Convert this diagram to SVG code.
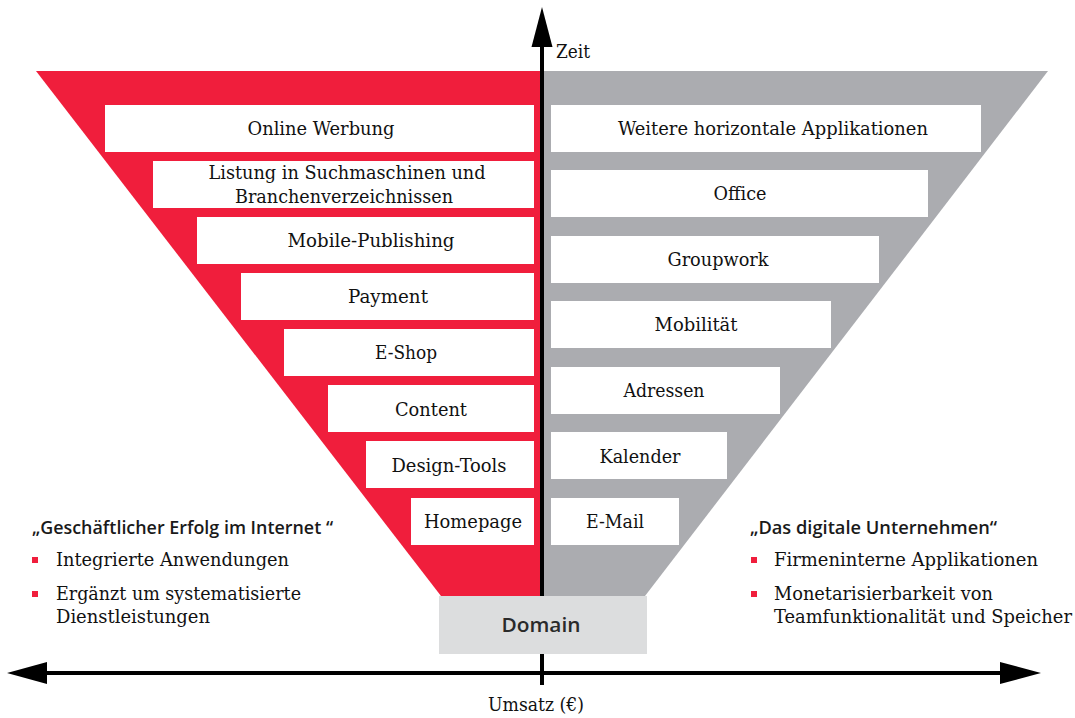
<svg xmlns="http://www.w3.org/2000/svg" width="1075" height="718" viewBox="0 0 1075 718">
<style>
text{font-family:"DejaVu Serif","Liberation Serif",serif;font-size:18px;fill:#111;font-stretch:condensed}
.c{text-anchor:middle}
.b{font-family:"Open Sans","Noto Sans",sans-serif;font-weight:700;font-stretch:normal;fill:#1a1a1a}
.box{fill:#fff}
.bullet{fill:#f01e3c}
</style>
<defs><polygon id="bu" points="0,0 6,0 6,6 0,6" class="bullet"/></defs>
<rect width="1075" height="718" fill="#fff"/>
<g id="funnel">
<polygon points="36,71 541,71 541,596 441,596" fill="#f01e3c"/>
<polygon points="541,71 1048,71 645,596 541,596" fill="#abacb0"/>
</g>
<g id="l1"><rect class="box" x="105" y="105" width="429" height="47"/><text class="c" x="321" y="135" textLength="147" lengthAdjust="spacingAndGlyphs">Online Werbung</text></g>
<g id="l2"><rect class="box" x="153" y="161" width="381" height="47"/><text class="c" x="347" y="179" textLength="277" lengthAdjust="spacingAndGlyphs">Listung in Suchmaschinen und</text><text class="c" x="344" y="203" textLength="218" lengthAdjust="spacingAndGlyphs">Branchenverzeichnissen</text></g>
<g id="l3"><rect class="box" x="197" y="217" width="337" height="47"/><text class="c" x="371" y="247" textLength="167" lengthAdjust="spacingAndGlyphs">Mobile-Publishing</text></g>
<g id="l4"><rect class="box" x="241" y="273" width="293" height="47"/><text class="c" x="388" y="303" textLength="80" lengthAdjust="spacingAndGlyphs">Payment</text></g>
<g id="l5"><rect class="box" x="284" y="329" width="250" height="47"/><text class="c" x="406" y="359" textLength="62" lengthAdjust="spacingAndGlyphs">E-Shop</text></g>
<g id="l6"><rect class="box" x="328" y="385" width="206" height="47"/><text class="c" x="431" y="416" textLength="72" lengthAdjust="spacingAndGlyphs">Content</text></g>
<g id="l7"><rect class="box" x="366" y="441" width="168" height="47"/><text class="c" x="449" y="472" textLength="115" lengthAdjust="spacingAndGlyphs">Design-Tools</text></g>
<g id="l8"><rect class="box" x="411" y="498" width="123" height="47"/><text class="c" x="473" y="528" textLength="98" lengthAdjust="spacingAndGlyphs">Homepage</text></g>
<g id="r1"><rect class="box" x="551" y="105" width="430" height="47"/><text class="c" x="773" y="135" textLength="310" lengthAdjust="spacingAndGlyphs">Weitere horizontale Applikationen</text></g>
<g id="r2"><rect class="box" x="551" y="170" width="377" height="47"/><text class="c" x="740" y="200" textLength="53" lengthAdjust="spacingAndGlyphs">Office</text></g>
<g id="r3"><rect class="box" x="551" y="236" width="328" height="47"/><text class="c" x="718" y="266" textLength="101" lengthAdjust="spacingAndGlyphs">Groupwork</text></g>
<g id="r4"><rect class="box" x="551" y="301" width="280" height="47"/><text class="c" x="696" y="331" textLength="83" lengthAdjust="spacingAndGlyphs">Mobilität</text></g>
<g id="r5"><rect class="box" x="551" y="367" width="229" height="47"/><text class="c" x="664" y="397" textLength="81" lengthAdjust="spacingAndGlyphs">Adressen</text></g>
<g id="r6"><rect class="box" x="551" y="432" width="176" height="47"/><text class="c" x="640" y="463" textLength="81" lengthAdjust="spacingAndGlyphs">Kalender</text></g>
<g id="r7"><rect class="box" x="551" y="498" width="128" height="47"/><text class="c" x="615" y="528" textLength="58" lengthAdjust="spacingAndGlyphs">E-Mail</text></g>
<g id="connectors" fill="#000">
<rect x="540" y="44" width="4" height="641"/>
<polygon points="542,7 552.5,47 531.5,47"/>
<rect x="44" y="671" width="958" height="4"/>
<polygon points="7,673 47,662 47,684"/>
<polygon points="1041,673 1000,662 1000,684"/>
</g>
<g id="domain"><rect x="439" y="596" width="208" height="58" fill="#dcddde"/><text class="c b" x="541" y="632" style="font-size:20px;font-weight:600;fill:#2a2a2a" textLength="79" lengthAdjust="spacingAndGlyphs">Domain</text></g>
<g id="axis-labels">
<text x="556" y="58" textLength="34" lengthAdjust="spacingAndGlyphs">Zeit</text>
<text x="488" y="711" textLength="96" lengthAdjust="spacingAndGlyphs">Umsatz (€)</text>
</g>
<g id="left-text">
<text class="b" x="32" y="534" style="font-size:18px;font-weight:600" textLength="301" lengthAdjust="spacingAndGlyphs">„Geschäftlicher Erfolg im Internet “</text>
<use href="#bu" x="32" y="557"/><text x="56" y="566" textLength="233" lengthAdjust="spacingAndGlyphs">Integrierte Anwendungen</text>
<use href="#bu" x="32" y="591"/><text x="56" y="600" textLength="245" lengthAdjust="spacingAndGlyphs">Ergänzt um systematisierte</text>
<text x="56" y="623" textLength="154" lengthAdjust="spacingAndGlyphs">Dienstleistungen</text>
</g>
<g id="right-text">
<text class="b" x="750" y="534" style="font-size:18px;font-weight:600" textLength="247" lengthAdjust="spacingAndGlyphs">„Das digitale Unternehmen“</text>
<use href="#bu" x="751" y="557"/><text x="774" y="566" textLength="264" lengthAdjust="spacingAndGlyphs">Firmeninterne Applikationen</text>
<use href="#bu" x="751" y="591"/><text x="774" y="600" textLength="219" lengthAdjust="spacingAndGlyphs">Monetarisierbarkeit von</text>
<text x="774" y="623" textLength="298" lengthAdjust="spacingAndGlyphs">Teamfunktionalität und Speicher</text>
</g>
</svg>
